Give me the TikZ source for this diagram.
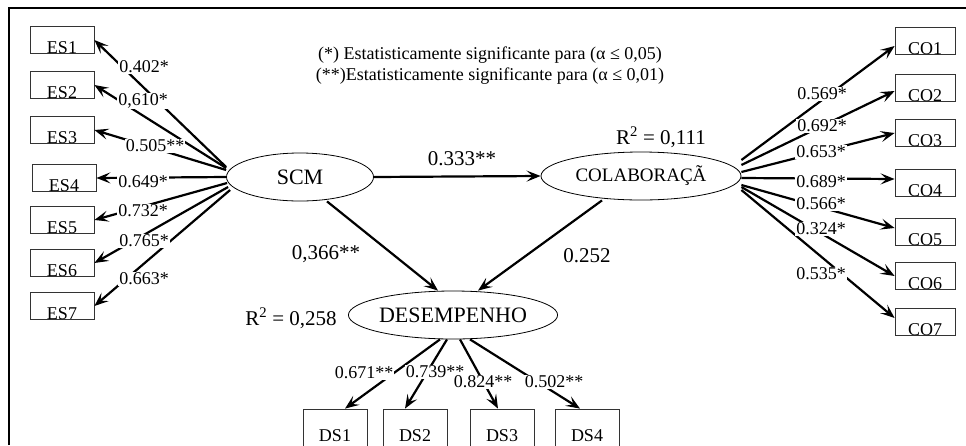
\documentclass[tikz,border=0pt]{standalone}
\usepackage{fontspec}
\setmainfont{Liberation Serif}
\usetikzlibrary{shapes.geometric,arrows.meta}

\tikzstyle{ind} = [draw=black!80, line width=0.8pt, minimum width=64pt, inner xsep=0pt, inner ysep=0.5pt, text height=26pt, text depth=0pt, font=\fontsize{18}{18}\selectfont]
\tikzstyle{lat} = [draw, ellipse, line width=0.8pt, inner sep=0pt, minimum height=48pt, font=\fontsize{22}{22}\selectfont]
\tikzstyle{coef} = [fill=white, inner sep=1pt, font=\fontsize{18}{18}\selectfont]
\tikzstyle{path coef} = [inner sep=1pt, font=\fontsize{21}{21}\selectfont]
\tikzstyle{load} = [line width=2.2pt, -{Stealth[length=14pt, width=11pt, inset=6pt]}]

\begin{document}
\begin{tikzpicture}[x=1pt, y=-1pt]
\clip (0,0) rectangle (966,445);
\draw[line width=1.8pt] (9,445) -- (9,8) -- (966,8);

% legenda
\node[font=\fontsize{18}{18}\selectfont] (leg1) at (490,55) {(*) Estatisticamente significante para (α ≤ 0,05)};
\node[font=\fontsize{18}{18}\selectfont] (leg2) at (490,76) {(**)Estatisticamente significante para (α ≤ 0,01)};

% construtos
\node[lat, minimum width=147pt] (scm) at (300,177) {SCM};
\node[lat, minimum width=200pt, font=\fontsize{19}{19}\selectfont] (col) at (641,176) {COLABORAÇÃ};
\node[lat, minimum width=203pt] (des) at (453,315) {DESEMPENHO};

\node[path coef] (r2col) at (661,137) {R\textsuperscript{2} = 0,111};
\node[path coef] (r2des) at (291,318) {R\textsuperscript{2} = 0,258};

% indicadores
\node[ind] (es1) at (62,40) {ES1};
\node[ind] (es2) at (62,85) {ES2};
\node[ind] (es3) at (62,130) {ES3};
\node[ind] (es4) at (64,178) {ES4};
\node[ind] (es5) at (62,220) {ES5};
\node[ind] (es6) at (62,263) {ES6};
\node[ind] (es7) at (62,306) {ES7};

\node[ind, minimum width=60pt] (co1) at (925,41) {CO1};
\node[ind, minimum width=60pt] (co2) at (925,88) {CO2};
\node[ind, minimum width=60pt] (co3) at (925,133) {CO3};
\node[ind, minimum width=60pt] (co4) at (925,183) {CO4};
\node[ind, minimum width=60pt] (co5) at (925,232) {CO5};
\node[ind, minimum width=60pt] (co6) at (925,276) {CO6};
\node[ind, minimum width=60pt] (co7) at (925,322) {CO7};

\node[ind, text height=32pt, text depth=5pt] (ds1) at (335,428) {DS1};
\node[ind, text height=32pt, text depth=5pt] (ds2) at (415,428) {DS2};
\node[ind, text height=32pt, text depth=5pt] (ds3) at (502,428) {DS3};
\node[ind, text height=32pt, text depth=5pt] (ds4) at (587,428) {DS4};

% caminhos estruturais
\draw[load] (scm.east) -- (col.west);
\draw[load] ([xshift=27pt]scm.south) -- ([xshift=-15pt]des.north);
\draw[load] ([xshift=-39pt]col.south) -- ([xshift=25pt]des.north);

\node[path coef] (p1) at (462,159) {0.333**};
\node[path coef] (p2) at (326,254) {0,366**};
\node[path coef] (p3) at (587,256) {0.252};

% cargas SCM
\draw[load] ([yshift=10pt]scm.west) -- (es1.east);
\draw[load] ([yshift=9pt]scm.west) -- (es2.east);
\draw[load] ([yshift=7pt]scm.west) -- (es3.east);
\draw[load] (scm.west) -- (es4.east);
\draw[load] ([xshift=1pt, yshift=-6pt]scm.west) -- (es5.east);
\draw[load] ([xshift=2pt, yshift=-10pt]scm.west) -- (es6.east);
\draw[load] ([xshift=4pt, yshift=-13pt]scm.west) -- (es7.east);

\node[coef] (e1) at (144,67) {0.402*};
\node[coef] (e2) at (143,101) {0,610*};
\node[coef] (e3) at (155,146) {0.505**};
\node[coef] (e4) at (143,182) {0.649*};
\node[coef] (e5) at (143,211) {0.732*};
\node[coef] (e6) at (144,241) {0.765*};
\node[coef] (e7) at (144,279) {0.663*};

% cargas COLABORACAO
\draw[load] ([yshift=16pt]col.east) -- ([yshift=-5pt]co1.west);
\draw[load] ([yshift=11pt]col.east) -- ([yshift=-3pt]co2.west);
\draw[load] ([yshift=4pt]col.east) -- (co3.west);
\draw[load] ([yshift=-2pt]col.east) -- ([yshift=4pt]co4.west);
\draw[load] ([yshift=-9pt]col.east) -- ([yshift=4pt]co5.west);
\draw[load] ([yshift=-11pt]col.east) -- (co6.west);
\draw[load] ([yshift=-14pt]col.east) -- ([yshift=4pt]co7.west);

\node[coef] (c1) at (822,94) {0.569*};
\node[coef] (c2) at (822,126) {0.692*};
\node[coef] (c3) at (821,152) {0.653*};
\node[coef] (c4) at (821,182) {0.689*};
\node[coef] (c5) at (821,204) {0.566*};
\node[coef] (c6) at (821,229) {0.324*};
\node[coef] (c7) at (821,274) {0.535*};

% cargas DESEMPENHO
\draw[load] ([xshift=-13pt]des.south) -- ([xshift=10pt]ds1.north);
\draw[load] ([xshift=-6pt]des.south) -- ([xshift=-10pt]ds2.north);
\draw[load] ([xshift=7pt]des.south) -- ([xshift=-4pt]ds3.north);
\draw[load] ([xshift=17pt]des.south) -- ([xshift=-7pt]ds4.north);

\node[coef] (d1) at (364,373) {0.671**};
\node[coef] (d2) at (435,372) {0.739**};
\node[coef] (d3) at (483,382) {0.824**};
\node[coef] (d4) at (554,382) {0.502**};
\end{tikzpicture}
\end{document}
